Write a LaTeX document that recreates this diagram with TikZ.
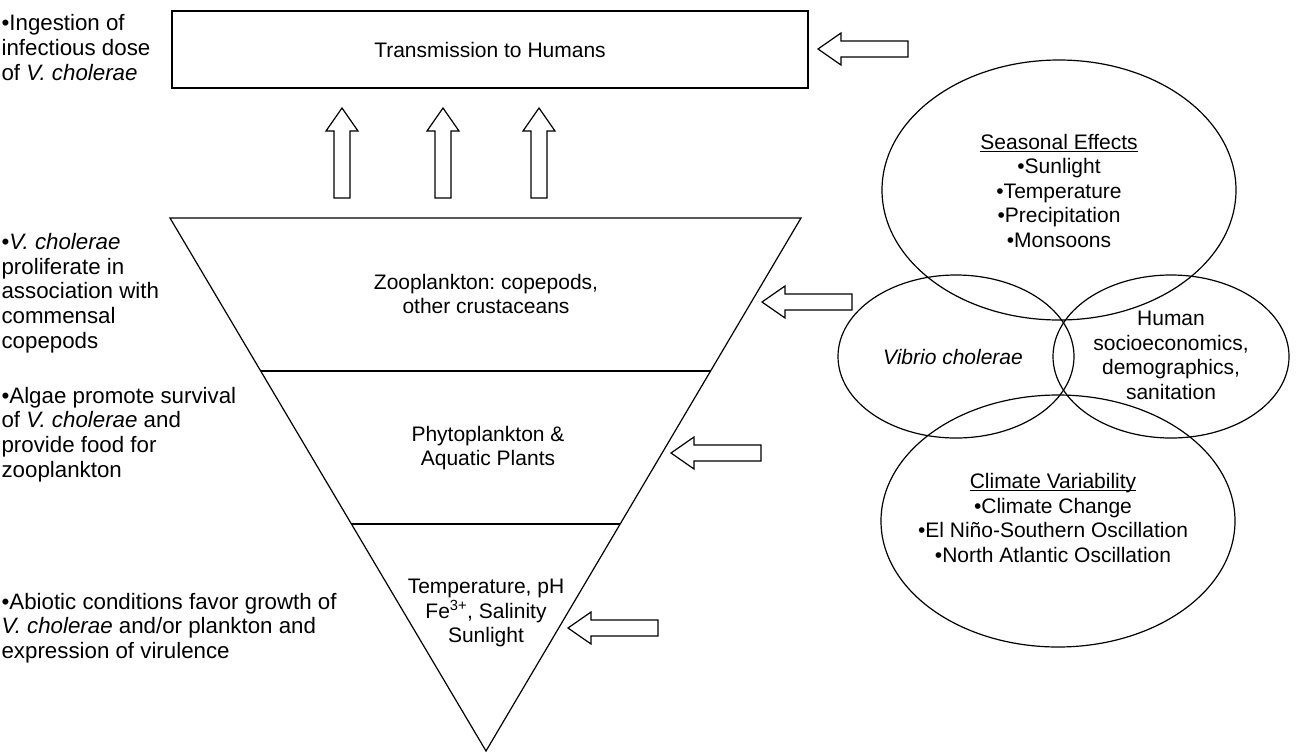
\documentclass[tikz,border=0pt]{standalone}
\usepackage{fontspec}
\setmainfont{Liberation Sans}
\usetikzlibrary{shapes.geometric,calc}
\newcommand\UnderText[1]{\setbox0\hbox{#1}\rlap{\rule[-2.6pt]{\wd0}{1pt}}\box0}
\frenchspacing
\begin{document}
\begin{tikzpicture}[x=1pt,y=-1pt,line width=1.2pt,
  txt/.style={inner sep=0pt,align=center,font=\fontsize{21}{24.5}\selectfont\frenchspacing},
  lefttxt/.style={inner sep=0pt,align=left,anchor=west,font=\fontsize{22.3}{24.7}\selectfont\frenchspacing},
  oval/.style={draw,ellipse,inner sep=0pt},
  arrowline/.style={draw,line width=1.2pt,fill=white},
  blockarrow/.pic={\draw[arrowline] (0,0) -- (23,16) -- (23,8) -- (90,8) -- (90,-8) -- (23,-8) -- (23,-16) -- cycle;}]
\useasboundingbox (0,0) rectangle (1312,753);
% top box
\node[txt,draw,minimum width=636pt,minimum height=77pt] (trans) at (490,49.5) {Transmission to Humans};
% inverted triangle
\coordinate (tl) at (170,218);
\coordinate (tr) at (801,218);
\coordinate (ap) at (486,751);
\draw (tl) -- (tr) -- (ap) -- cycle;
\coordinate (l1) at ($(tl)!0.287!(ap)$);
\coordinate (r1) at ($(tr)!0.287!(ap)$);
\coordinate (l2) at ($(tl)!0.574!(ap)$);
\coordinate (r2) at ($(tr)!0.574!(ap)$);
\draw (l1) -- (r1);
\draw (l2) -- (r2);
% block arrows
\pic at (818,49) {blockarrow};
\pic at (762,302) {blockarrow};
\pic at (671,453) {blockarrow};
\pic at (568,628) {blockarrow};
\pic[rotate=-90] at (342,108) {blockarrow};
\pic[rotate=-90] at (443,108) {blockarrow};
\pic[rotate=-90] at (539,108) {blockarrow};
% layer texts
\node[txt] (zoo) at (486,294) {Zooplankton: copepods,\\other crustaceans};
\node[txt] (phyto) at (488,448) {Phytoplankton \&\\Aquatic Plants};
\node[txt] (abio) at (486,613) {Temperature, pH\\Fe\textsuperscript{3+}, Salinity\\Sunlight};
% left notes
\node[lefttxt] (ingest) at (1,47.5) {\textbullet Ingestion of\\infectious dose\\of \textit{V. cholerae}};
\node[lefttxt] (prolif) at (1,293) {\textbullet\textit{V. cholerae}\\proliferate in\\association with\\commensal\\copepods};
\node[lefttxt] (algae) at (1,434.5) {\textbullet Algae promote survival\\of \textit{V. cholerae} and\\provide food for\\zooplankton};
\node[lefttxt] (abiotic) at (1,628) {\textbullet Abiotic conditions favor growth of\\\textit{V. cholerae} and/or plankton and\\expression of virulence};
% ellipses
\node[oval,minimum width=354pt,minimum height=260pt] (seas) at (1059,190) {};
\node[oval,minimum width=236pt,minimum height=163pt] (vib) at (956,356.5) {};
\node[oval,minimum width=236pt,minimum height=163pt] (hum) at (1171,356.5) {};
\node[oval,minimum width=354pt,minimum height=252pt] (clim) at (1058,521) {};
\node[txt] (seastxt) at (1059,190.5) {\UnderText{Seasonal Effects}\\\textbullet Sunlight\\\textbullet Temperature\\\textbullet Precipitation\\\textbullet Monsoons};
\node[txt] (vibtxt) at (953,357) {\textit{Vibrio cholerae}};
\node[txt] (humtxt) at (1171,355.5) {Human\\socioeconomics,\\demographics,\\sanitation};
\node[txt] (climtxt) at (1053,518) {\UnderText{Climate Variability}\\\textbullet Climate Change\\\textbullet El Niño-Southern Oscillation\\\textbullet North Atlantic Oscillation};
\end{tikzpicture}
\end{document}
